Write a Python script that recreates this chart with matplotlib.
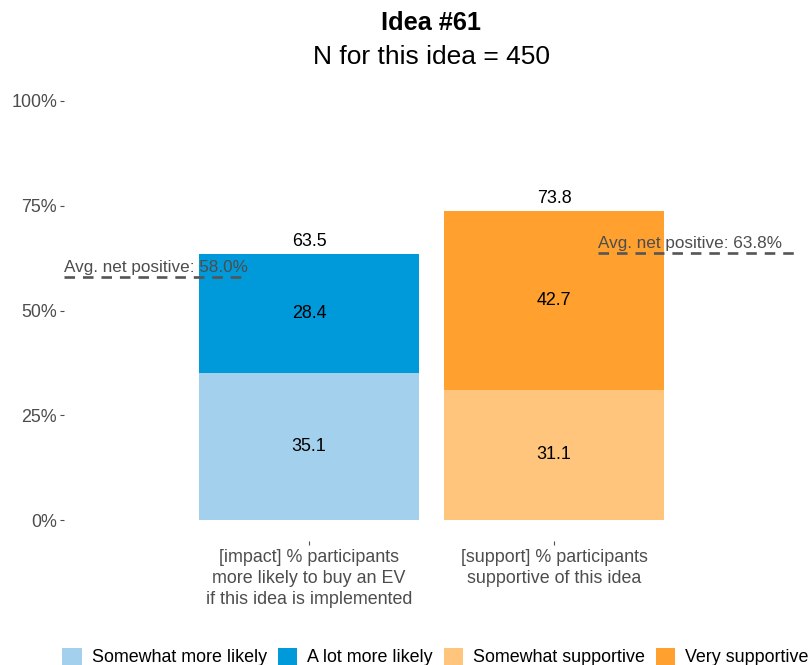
import numpy as np
import matplotlib.pyplot as plt
from matplotlib.patches import Patch

plt.rcParams['font.family'] = ['Liberation Sans', 'DejaVu Sans']

# stacked shares per measure (percent of participants)
categories = ['[impact] % participants\nmore likely to buy an EV\nif this idea is implemented',
              '[support] % participants\nsupportive of this idea']
lower_vals = [35.1, 31.1]     # somewhat more likely / somewhat supportive
upper_vals = [28.4, 42.7]     # a lot more likely / very supportive
totals = [63.5, 73.8]
avg_net = [58.0, 63.8]
avg_span = [(0.0, 0.73), (2.18, 3.0)]

lower_cols = ['#A3D0EC', '#FFC57D']
upper_cols = ['#0099DA', '#FFA02F']
legend_labels = ['Somewhat more likely', 'A lot more likely', 'Somewhat supportive', 'Very supportive']
legend_cols = ['#A3D0EC', '#0099DA', '#FFC57D', '#FFA02F']

grey = '#4D4D4D'
fs = 12.9

fig = plt.figure(figsize=(8.09, 6.65), dpi=100)
ax = fig.add_axes([64/809, 1 - 541/665, 745/809, 461/665])

xs = np.arange(1, len(categories) + 1)
ax.bar(xs, lower_vals, width=0.9, color=lower_cols)
ax.bar(xs, upper_vals, width=0.9, bottom=lower_vals, color=upper_cols)

for x, lo, up, tot in zip(xs, lower_vals, upper_vals, totals):
    ax.text(x, lo / 2, f'{lo:.1f}', ha='center', va='center', fontsize=fs, color='black')
    ax.text(x, lo + up / 2, f'{up:.1f}', ha='center', va='center', fontsize=fs, color='black')
    ax.annotate(f'{tot:.1f}', (x, tot), xytext=(0, 3), textcoords='offset points',
                ha='center', va='bottom', fontsize=fs, color='black')

for val, (x0, x1) in zip(avg_net, avg_span):
    ax.plot([x0, x1], [val, val], color='#555555', lw=1.9, ls=(0, (4, 3)), zorder=5)
    ax.annotate(f'Avg. net positive: {val:.1f}%', (x0, val), xytext=(0, 1.5),
                textcoords='offset points', ha='left', va='bottom',
                fontsize=12.3, color=grey, zorder=6)

ax.set_xlim(0, 3.04)
ax.set_ylim(-5, 105)
ax.set_yticks([0, 25, 50, 75, 100])
ax.set_yticklabels(['0%', '25%', '50%', '75%', '100%'])
ax.set_xticks(xs)
ax.set_xticklabels(categories, linespacing=1.3)
ax.tick_params(axis='both', colors=grey, labelsize=fs, length=3, width=0.8)
ax.tick_params(axis='y', pad=2)
ax.tick_params(axis='x', pad=3)
for s in ax.spines.values():
    s.set_visible(False)

fig.text(431/809, 1 - 23/665, 'Idea #61', ha='center', va='center',
         fontsize=18.3, fontweight='bold')
fig.text(431/809, 1 - 57/665, 'N for this idea = 450', ha='center', va='center', fontsize=19)

handles = [Patch(facecolor=c, edgecolor='none') for c in legend_cols]
fig.legend(handles, legend_labels, ncol=4, loc='center left',
           bbox_to_anchor=(55/809, 1 - 657/665), frameon=False, fontsize=fs,
           handlelength=1.1, handleheight=1.1, handletextpad=0.55,
           columnspacing=0.6, borderaxespad=0)

fig.savefig('out.png', dpi=100)
